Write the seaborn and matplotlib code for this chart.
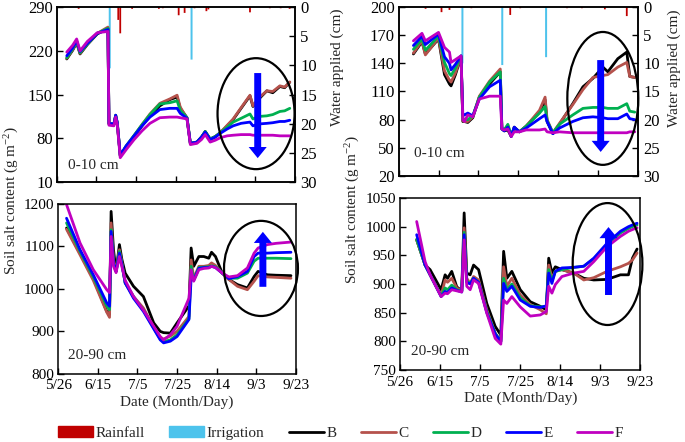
import pandas as pd
import matplotlib
matplotlib.use("Agg")
import matplotlib.pyplot as plt
from matplotlib.patches import Ellipse, Patch
from matplotlib.lines import Line2D
import seaborn as sns

# days counted from 5/26
tick_days = [0, 20, 40, 60, 80, 100, 120]
tick_labels = ["5/26", "6/15", "7/5", "7/25", "8/14", "9/3", "9/23"]
treatments = ["B", "C", "D", "E", "F"]
palette = {"B": "#000000", "C": "#B5524C", "D": "#00B050", "E": "#0000FF", "F": "#C000C0"}
rain_color = "#C00000"
irr_color = "#4DC3EC"

# ---- top left, 0-10 cm
tl_days = [5, 8, 10, 11.7, 15.4, 20.4, 25.8, 26.3, 28.8, 29.7, 30.5, 32, 35, 39, 43, 47, 52,
           57, 60.7, 62.3, 65.7, 67.4, 70.7, 73, 74.9, 77.4, 80, 82.5, 86, 89, 93, 97.5, 99,
           102, 106, 109, 112.6, 115, 117.6]
tl_B = [207, 221, 233, 215, 230, 247, 256, 103, 102, 116, 104, 53, 67, 83, 100, 116, 132, 142, 146,
        128, 113, 72, 74, 82, 91, 79, 83, 89, 100, 110, 128, 148, 131, 143, 156, 153, 163, 161, 170]
tl_C = [208, 222, 234, 216, 231, 248, 258, 103, 102, 117, 104, 52, 67, 84, 102, 119, 136, 143, 149,
        130, 112, 71, 73, 81, 90, 78, 82, 89, 101, 111, 129, 149, 132, 145, 156, 155, 164, 162, 170]
tl_D = [209, 223, 235, 217, 231, 248, 256, 104, 103, 117, 105, 52, 68, 85, 102, 118, 135, 137, 140,
        125, 113, 72, 74, 82, 91, 79, 83, 89, 98, 106, 112, 119, 111, 115, 116, 118, 123, 124, 128]
tl_E = [212, 225, 236, 219, 232, 248, 254, 104, 103, 117, 105, 53, 68, 84, 100, 114, 126, 128, 128,
        120, 112, 72, 74, 82, 90, 78, 82, 88, 95, 100, 104, 106, 100, 103, 104, 105, 107, 107, 109]
tl_F = [218, 229, 239, 220, 235, 249, 251, 101, 100, 114, 102, 49, 62, 78, 92, 104, 113, 114, 114,
        113, 111, 70, 72, 78, 86, 74, 77, 81, 84, 85, 86, 86, 85, 85, 85, 85, 84, 84, 84]
tl_rain_days = [11, 31, 32, 38, 51.5, 53.5, 61.5, 64.5, 69.5, 75.5, 76.5, 97.5, 107.5, 113, 117.5]
tl_rain_cm = [0.3, 2.2, 4.5, 0.3, 0.3, 0.2, 1.4, 1.0, 0.2, 0.7, 0.4, 0.9, 0.2, 0.2, 0.3]
tl_irr_days = [26.7, 68]
tl_irr_cm = [10.5, 9.0]

# ---- top right, 0-10 cm
tr_days = [7.4, 11.7, 13.4, 20, 23, 25.5, 26.3, 28.5, 31.3, 32.2, 33, 34.7, 37.2, 40.5, 45.6, 51,
           51.8, 53, 54.8, 56.5, 58, 60.6, 64, 70.7, 73.5, 74.5, 77.4, 80.7, 87.4, 92.5, 97.5,
           102.5, 105, 110, 114.5, 116, 118.5]
tr_B = [150, 163, 150, 166, 128, 118, 116, 128, 147, 78, 78, 77, 82, 104, 118, 131, 70, 68, 69, 62,
        72, 67, 73, 88, 101, 78, 65, 75, 97, 115, 124, 136, 131, 145, 152, 126, 125]
tr_C = [151, 164, 149, 167, 132, 122, 120, 130, 147, 79, 78, 78, 83, 105, 121, 134, 71, 69, 74, 63,
        71, 67, 73, 90, 104, 80, 66, 76, 96, 112, 125, 127, 128, 136, 141, 126, 125]
tr_D = [155, 166, 154, 169, 141, 129, 127, 135, 148, 80, 80, 80, 84, 104, 120, 131, 71, 69, 75, 63,
        71, 67, 73, 87, 94, 79, 66, 75, 85, 92, 93, 93, 92, 92, 97, 89, 88]
tr_E = [159, 169, 160, 171, 147, 140, 133, 139, 148, 85, 85, 87, 84, 102, 115, 122, 70, 68, 72, 62,
        72, 67, 71, 81, 85, 78, 65, 71, 78, 82, 83, 82, 81, 81, 86, 81, 80]
tr_F = [164, 172, 164, 173, 157, 152, 141, 144, 148, 80, 78, 85, 83, 102, 105, 105, 70, 69, 70, 62,
        67, 67, 69, 69, 70, 67, 66, 67, 66, 66, 66, 66, 66, 66, 66, 67, 67]
tr_rain_days = [13.5, 21.5, 25.5, 36.5, 56, 61, 84.5, 92, 103.5, 114.5]
tr_rain_cm = [0.3, 0.9, 0.5, 0.2, 1.4, 0.2, 0.2, 0.2, 0.4, 1.6]
tr_irr_days = [32, 52, 74]
tr_irr_cm = [10.0, 10.3, 8.9]

# ---- bottom left, 20-90 cm
bl_days = [4.2, 11, 17.7, 24.5, 25.9, 26.7, 27.9, 29.2, 30.9, 32.1, 33.8, 38, 43, 48.2, 51.5, 53.2,
           56.6, 60, 66, 67.1, 68.4, 71, 73.5, 76, 77.4, 79.4, 82.8, 86.2, 90.5, 95.5, 98.9, 100.9,
           105.6, 110, 117.5]
bl_B = [1143, 1084, 1025, 947, 940, 1182, 1092, 1041, 1104, 1070, 1037, 1006, 982, 920, 900, 897,
        896, 920, 960, 1096, 1053, 1076, 1076, 1072, 1086, 1076, 1037, 1022, 1010, 1002, 1029, 1041,
        1033, 1032, 1031]
bl_C = [1140, 1080, 1020, 945, 933, 1155, 1068, 1041, 1092, 1062, 1014, 982, 955, 910, 885, 882,
        889, 900, 935, 1068, 1025, 1053, 1053, 1055, 1061, 1055, 1037, 1022, 1006, 998, 1018, 1031,
        1028, 1027, 1025]
bl_D = [1155, 1088, 1028, 960, 951, 1139, 1060, 1041, 1088, 1060, 1014, 982, 950, 908, 882, 876,
        880, 892, 930, 1053, 1022, 1050, 1051, 1052, 1054, 1052, 1037, 1025, 1025, 1037, 1065, 1072,
        1072, 1072, 1071]
bl_E = [1166, 1092, 1033, 967, 959, 1135, 1060, 1041, 1084, 1058, 1014, 978, 947, 906, 880, 873,
        877, 888, 928, 1025, 1020, 1048, 1050, 1050, 1053, 1050, 1037, 1024, 1029, 1041, 1076, 1084,
        1084, 1085, 1086]
bl_F = [1198, 1108, 1045, 998, 991, 1123, 1053, 1038, 1076, 1053, 1020, 982, 950, 912, 888, 880,
        892, 912, 978, 1045, 1018, 1045, 1048, 1049, 1053, 1050, 1037, 1028, 1031, 1049, 1084, 1096,
        1104, 1107, 1110]

# ---- bottom right, 20-90 cm
br_days = [8.3, 12.5, 15, 20.5, 22.5, 23.7, 25.8, 28.3, 30.8, 32, 33.3, 35, 36.7, 39.2, 43.3, 47.5,
           50.3, 51.7, 53.3, 55.8, 60, 65, 70, 73, 74.2, 75.8, 77.5, 80.8, 86.7, 91.7, 96.7, 103.3,
           110, 114, 116, 118.3]
br_B = [977, 933, 925, 890, 916, 910, 922, 895, 888, 1024, 919, 916, 933, 925, 866, 826, 811, 957,
        910, 922, 890, 869, 861, 855, 945, 919, 930, 925, 919, 910, 907, 908, 916, 916, 945, 961]
br_C = [977, 933, 916, 880, 907, 903, 910, 893, 888, 998, 910, 901, 913, 907, 855, 814, 800, 930,
        896, 910, 881, 864, 855, 848, 933, 910, 922, 925, 919, 907, 911, 922, 930, 936, 942, 954]
br_D = [978, 933, 916, 879, 893, 890, 898, 890, 887, 990, 905, 901, 910, 903, 852, 814, 800, 910,
        890, 900, 876, 862, 860, 861, 925, 905, 922, 925, 929, 931, 944, 968, 989, 997, 1000, 1003]
br_E = [986, 933, 916, 878, 887, 885, 893, 889, 886, 986, 903, 900, 910, 903, 850, 813, 799, 901,
        887, 896, 872, 861, 859, 862, 919, 901, 922, 928, 929, 931, 945, 971, 992, 1000, 1003, 1006]
br_F = [1009, 939, 916, 878, 884, 883, 890, 888, 886, 977, 896, 890, 907, 901, 849, 805, 795, 872,
        866, 878, 860, 844, 846, 852, 896, 884, 899, 913, 919, 922, 939, 965, 983, 992, 995, 998]


sns.set_style("ticks")
plt.rcParams["font.family"] = ["Liberation Serif", "DejaVu Serif"]
plt.rcParams["mathtext.fontset"] = "custom"
plt.rcParams["mathtext.rm"] = "Liberation Serif"
plt.rcParams["mathtext.it"] = "Liberation Serif:italic"
plt.rcParams["axes.edgecolor"] = "black"
plt.rcParams["axes.linewidth"] = 1.1
plt.rcParams["xtick.color"] = "black"
plt.rcParams["ytick.color"] = "black"


def to_long(days, series):
    frames = []
    for t, vals in zip(treatments, series):
        frames.append(pd.DataFrame({"day": days, "salt": vals, "treatment": t}))
    return pd.concat(frames, ignore_index=True)


def salt_panel(ax, days, series, ylim, yticks, depth, depth_xy, ell, arrow, tick_fs, show_x):
    df = to_long(days, series)
    sns.lineplot(data=df, x="day", y="salt", hue="treatment", hue_order=treatments,
                 palette=palette, lw=2, legend=False, sort=False, estimator=None, ax=ax)
    ax.set_xlim(0, 120)
    ax.set_ylim(*ylim)
    ax.set_yticks(yticks)
    ax.set_xticks(tick_days)
    if show_x:
        ax.set_xticklabels(tick_labels, fontsize=11)
        ax.set_xlabel("Date (Month/Day)", fontsize=11, labelpad=2)
    else:
        ax.set_xticklabels([])
        ax.set_xlabel("")
    ax.set_ylabel("")
    ax.tick_params(axis="y", labelsize=tick_fs, direction="in", length=4, width=1, pad=3)
    ax.tick_params(axis="x", direction="in", length=4, width=1, pad=4)
    for s in ax.spines.values():
        s.set_visible(True)
    ax.text(depth_xy[0], depth_xy[1], depth, transform=ax.transAxes, fontsize=11,
            ha="left", va="center")
    ax.add_patch(Ellipse(ell[:2], ell[2], ell[3], transform=ax.transAxes, fill=False,
                         ec="black", lw=1.6, clip_on=False, zorder=5))
    ax.annotate("", xy=(arrow[0], arrow[2]), xytext=(arrow[0], arrow[1]),
                xycoords="axes fraction", textcoords="axes fraction",
                arrowprops=dict(width=5, headwidth=13, headlength=8, color="#0000FF", lw=0),
                zorder=6)


def water_axis(ax, rain_days, rain_cm, irr_days, irr_cm):
    ax2 = ax.twinx()
    ax2.bar(irr_days, irr_cm, width=1.0, color=irr_color, align="center", lw=0, snap=False)
    ax2.bar(rain_days, rain_cm, width=0.9, color=rain_color, align="center", lw=0, snap=False)
    ax2.set_ylim(30, 0)
    ax2.set_yticks([0, 5, 10, 15, 20, 25, 30])
    ax2.tick_params(axis="y", labelsize=12, direction="in", length=4, width=1, pad=4)
    ax2.set_xlim(0, 120)
    ax.set_zorder(ax2.get_zorder() + 1)
    ax.patch.set_visible(False)
    return ax2


fig = plt.figure(figsize=(6.85, 4.42), dpi=100)
ax_tl = fig.add_axes([0.083, 0.588, 0.347, 0.396])
ax_tr = fig.add_axes([0.582, 0.602, 0.349, 0.382])
ax_bl = fig.add_axes([0.085, 0.154, 0.347, 0.385])
ax_br = fig.add_axes([0.584, 0.163, 0.351, 0.389])

water_axis(ax_tl, tl_rain_days, tl_rain_cm, tl_irr_days, tl_irr_cm)
water_axis(ax_tr, tr_rain_days, tr_rain_cm, tr_irr_days, tr_irr_cm)

salt_panel(ax_tl, tl_days, [tl_B, tl_C, tl_D, tl_E, tl_F], (10, 290), [10, 80, 150, 220, 290],
           "0-10 cm", (0.046, 0.097), (0.838, 0.391, 0.324, 0.634), (0.845, 0.623, 0.137), 12, False)
salt_panel(ax_tr, tr_days, [tr_B, tr_C, tr_D, tr_E, tr_F], (20, 200), [20, 50, 80, 110, 140, 170, 200],
           "0-10 cm", (0.063, 0.13), (0.854, 0.459, 0.297, 0.787), (0.845, 0.686, 0.142), 12, False)
salt_panel(ax_bl, bl_days, [bl_B, bl_C, bl_D, bl_E, bl_F], (800, 1200), [800, 900, 1000, 1100, 1200],
           "20-90 cm", (0.042, 0.11), (0.853, 0.62, 0.311, 0.559), (0.861, 0.512, 0.835), 11, True)
salt_panel(ax_br, br_days, [br_B, br_C, br_D, br_E, br_F], (750, 1050), [750, 800, 850, 900, 950, 1000, 1050],
           "20-90 cm", (0.046, 0.105), (0.863, 0.616, 0.29, 0.709), (0.867, 0.436, 0.831), 11, True)

ylab = "Soil salt content (g m$^{\\mathrm{-2}}$)"
fig.text(0.018, 0.547, ylab, rotation=90, ha="center", va="center", fontsize=11)
fig.text(0.515, 0.525, ylab, rotation=90, ha="center", va="center", fontsize=11)
fig.text(0.492, 0.848, "Water applied (cm)", rotation=90, ha="center", va="center", fontsize=11)
fig.text(0.985, 0.845, "Water applied (cm)", rotation=90, ha="center", va="center", fontsize=11)

handles = [Patch(color=rain_color, label="Rainfall"), Patch(color=irr_color, label="Irrigation")]
handles += [Line2D([], [], color=palette[t], lw=2, label=t) for t in treatments]
fig.legend(handles=handles, loc="center", bbox_to_anchor=(0.497, 0.02), ncol=7, frameon=False,
           fontsize=11, handlelength=2.3, handletextpad=0.15, columnspacing=1.6, borderaxespad=0)

fig.savefig("out.png", dpi=100)
